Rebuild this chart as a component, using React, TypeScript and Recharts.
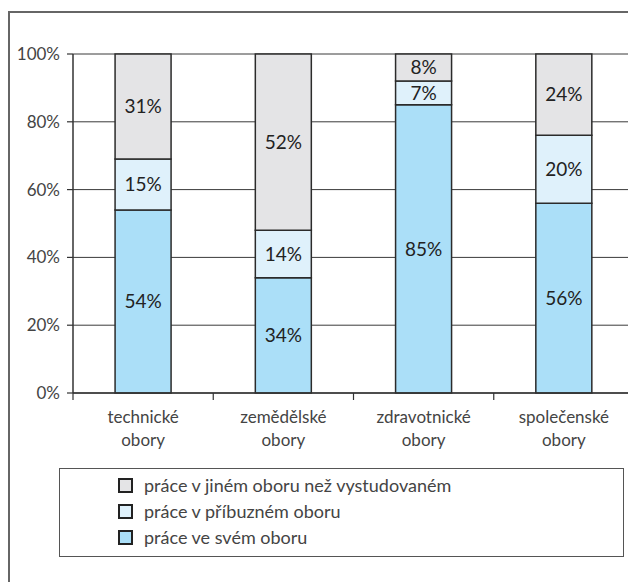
import React from "react";
import {
  BarChart,
  Bar,
  XAxis,
  YAxis,
  CartesianGrid,
  LabelList,
} from "recharts";

const categories = [
  "technické obory",
  "zemědělské obory",
  "zdravotnické obory",
  "společenské obory",
];
const ownField = [54, 34, 85, 56];
const relatedField = [15, 14, 7, 20];
const otherField = [31, 52, 8, 24];
const yTicks = [0, 20, 40, 60, 80, 100];

const seriesNames = {
  own: "práce ve svém oboru",
  related: "práce v příbuzném oboru",
  other: "práce v jiném oboru než vystudovaném",
};

const colors = {
  own: "#abdff8",
  related: "#dff1fb",
  other: "#e4e4e6",
};

const data = categories.map((c, i) => ({
  name: c,
  own: ownField[i],
  related: relatedField[i],
  other: otherField[i],
}));

const FONT = "Lato, 'Noto Sans', sans-serif";

const CategoryTick = (props: any) => {
  const { x, y, payload, index } = props;
  const off = payload.offset || 0;
  const words = String(payload.value).split(" ");
  const isLast = index === categories.length - 1;
  return (
    <g>
      <line x1={x - off} y1={y} x2={x - off} y2={y + 7} stroke="#333" strokeWidth={1.2} />
      {isLast && (
        <line x1={x + off} y1={y} x2={x + off} y2={y + 7} stroke="#333" strokeWidth={1.2} />
      )}
      <text x={x} y={y + 30} textAnchor="middle" fill="#444" fontSize={17} fontFamily={FONT}>
        {words[0]}
      </text>
      <text x={x} y={y + 53} textAnchor="middle" fill="#444" fontSize={17} fontFamily={FONT}>
        {words.slice(1).join(" ")}
      </text>
    </g>
  );
};

const legendItems = [
  { key: "other", name: seriesNames.other, color: colors.other },
  { key: "related", name: seriesNames.related, color: colors.related },
  { key: "own", name: seriesNames.own, color: colors.own },
];

export default function App() {
  return (
    <div
      style={{
        position: "relative",
        width: 636,
        height: 582,
        marginLeft: -8,
        marginTop: -8,
        overflow: "hidden",
        background: "#fff",
        fontFamily: FONT,
      }}
    >
      <div
        style={{
          position: "absolute",
          left: 8,
          top: 11,
          width: 640,
          height: 2,
          background: "#666",
        }}
      />
      <div
        style={{
          position: "absolute",
          left: 8,
          top: 11,
          width: 2,
          height: 600,
          background: "#666",
        }}
      />
      <div style={{ position: "absolute", left: 0, top: 0 }}>
        <BarChart
          width={636}
          height={582}
          data={data}
          margin={{ top: 54, right: 2, bottom: 129, left: 13 }}
          barCategoryGap="30%"
        >
          <CartesianGrid vertical={false} stroke="#3a3a3a" strokeWidth={1} />
          <XAxis
            dataKey="name"
            height={60}
            tick={<CategoryTick />}
            tickLine={false}
            tickSize={0}
            tickMargin={0}
            axisLine={{ stroke: "#333", strokeWidth: 1.5 }}
            interval={0}
          />
          <YAxis
            width={60}
            domain={[0, 100]}
            ticks={yTicks}
            tickFormatter={(v: number) => `${v}%`}
            tickSize={6}
            tickMargin={7}
            tick={{ fill: "#444", fontSize: 17, fontFamily: FONT }}
            tickLine={{ stroke: "#333", strokeWidth: 1.2 }}
            axisLine={{ stroke: "#333", strokeWidth: 1.5 }}
            interval={0}
          />
          <YAxis
            yAxisId="r"
            orientation="right"
            width={0}
            domain={[0, 100]}
            tick={false}
            tickLine={false}
            axisLine={{ stroke: "#333", strokeWidth: 1.5 }}
          />
          {(["own", "related", "other"] as const).map((k) => (
            <Bar
              key={k}
              dataKey={k}
              name={seriesNames[k]}
              stackId="a"
              fill={colors[k]}
              stroke="#2b2b2b"
              strokeWidth={1.5}
              isAnimationActive={false}
            >
              <LabelList
                dataKey={k}
                position="center"
                formatter={(v: any) => `${v}%`}
                fill="#222"
                fontSize={19}
                fontFamily={FONT}
              />
            </Bar>
          ))}
        </BarChart>
      </div>
      <div
        style={{
          position: "absolute",
          left: 59,
          top: 468,
          width: 565,
          height: 89,
          boxSizing: "border-box",
          border: "1.5px solid #555",
          paddingTop: 3,
        }}
      >
        {legendItems.map((it) => (
          <div
            key={it.key}
            style={{
              display: "flex",
              alignItems: "center",
              height: 26,
              paddingLeft: 58,
            }}
          >
            <span
              style={{
                display: "inline-block",
                width: 11,
                height: 11,
                background: it.color,
                border: "2px solid #222",
                marginRight: 11,
              }}
            />
            <span style={{ fontSize: 18, color: "#444", fontFamily: FONT }}>{it.name}</span>
          </div>
        ))}
      </div>
    </div>
  );
}
